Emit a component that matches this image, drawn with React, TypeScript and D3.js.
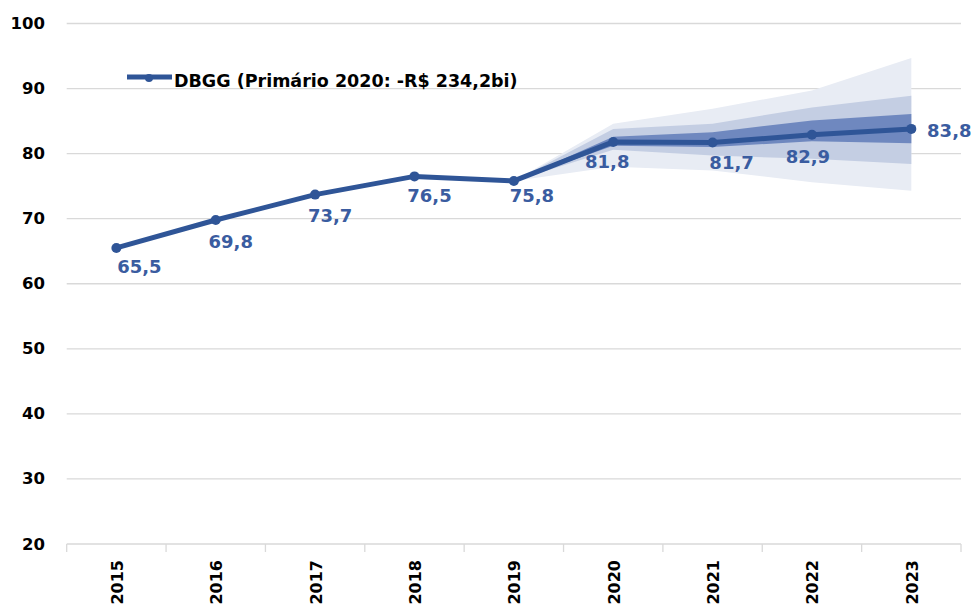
import React from 'react';
import * as d3 from 'd3';

const years = ['2015', '2016', '2017', '2018', '2019', '2020', '2021', '2022', '2023'];
const dbgg = [65.5, 69.8, 73.7, 76.5, 75.8, 81.8, 81.7, 82.9, 83.8];
const dataLabels = ['65,5', '69,8', '73,7', '76,5', '75,8', '81,8', '81,7', '82,9', '83,8'];

const fanYears = ['2019', '2020', '2021', '2022', '2023'];
const outerLow = [75.8, 78.0, 77.4, 75.6, 74.3];
const outerHigh = [75.8, 84.6, 86.9, 89.7, 94.7];
const midLow = [75.8, 80.6, 79.7, 79.2, 78.4];
const midHigh = [75.8, 83.8, 84.6, 87.1, 88.9];
const darkLow = [75.8, 81.2, 81.0, 81.9, 81.6];
const darkHigh = [75.8, 82.6, 83.3, 85.1, 86.1];

const yTicks = [20, 30, 40, 50, 60, 70, 80, 90, 100];
const legendText = 'DBGG (Primário 2020: -R$ 234,2bi)';

// layout: label offsets (dx, dy) from each point
const labelOffsets: [number, number][] = [
  [23, 25], [15, 28], [15, 27], [15, 26], [18, 21], [-6, 26], [19, 26], [-4, 28], [38, 8],
];

const W = 971;
const H = 606;
const LINE = '#2F5597';
const FONT = '"DejaVu Sans", Verdana, sans-serif';

export default function App() {
  const x = d3.scaleBand<string>().domain(years).range([66.7, 961]);
  const y = d3.scaleLinear().domain([20, 100]).range([544, 23.5]);
  const cx = (yr: string) => (x(yr) as number) + x.bandwidth() / 2;

  const band = (lo: number[], hi: number[]) =>
    d3
      .area<number>()
      .x((_, i) => cx(fanYears[i]))
      .y0((_, i) => y(lo[i]))
      .y1((_, i) => y(hi[i]))(lo.map((_, i) => i)) as string;

  const linePath = d3
    .line<number>()
    .x((_, i) => cx(years[i]))
    .y((d) => y(d))(dbgg) as string;

  const ticksX = years.map((yr) => x(yr) as number).concat([x.range()[1]]);

  return (
    <svg
      width={W}
      height={H}
      style={{ position: 'absolute', left: 0, top: 0, background: '#fff' }}
      fontFamily={FONT}
    >
      {yTicks.map((t) =>
        t === 20 ? null : (
          <line key={'g' + t} x1={66.7} x2={961} y1={y(t)} y2={y(t)} stroke="#d9d9d9" strokeWidth={1.3} />
        )
      )}
      {yTicks.map((t) => (
        <text
          key={'yt' + t}
          x={45}
          y={y(t)}
          textAnchor="end"
          dominantBaseline="central"
          fontSize={16.5}
          fontWeight="bold"
          fill="#000"
        >
          {t}
        </text>
      ))}

      <line x1={66.7} x2={961} y1={y(20)} y2={y(20)} stroke="#d9d9d9" strokeWidth={1.5} />
      {ticksX.map((tx, i) => (
        <line key={'tk' + i} x1={tx} x2={tx} y1={y(20)} y2={y(20) + 8} stroke="#d9d9d9" strokeWidth={1.3} />
      ))}
      {years.map((yr) => (
        <text
          key={'xl' + yr}
          transform={`translate(${cx(yr) + 1},560) rotate(-90)`}
          textAnchor="end"
          dominantBaseline="central"
          fontSize={16}
          fontWeight="bold"
          fill="#000"
        >
          {yr}
        </text>
      ))}

      <path d={band(outerLow, outerHigh)} fill="#E8ECF4" />
      <path d={band(midLow, midHigh)} fill="#C4CEE3" />
      <path d={band(darkLow, darkHigh)} fill="#6F88BF" />

      <path d={linePath} fill="none" stroke={LINE} strokeWidth={5} strokeLinejoin="round" />
      {dbgg.map((v, i) => (
        <circle key={'p' + i} cx={cx(years[i])} cy={y(v)} r={5} fill={LINE} />
      ))}
      {dbgg.map((v, i) => (
        <text
          key={'dl' + i}
          x={cx(years[i]) + labelOffsets[i][0]}
          y={y(v) + labelOffsets[i][1]}
          textAnchor="middle"
          fontSize={18}
          fontWeight="bold"
          fill="#3A5CA0"
        >
          {dataLabels[i]}
        </text>
      ))}

      <line x1={127} x2={172} y1={77} y2={77} stroke={LINE} strokeWidth={5} />
      <circle cx={149} cy={78} r={4} fill={LINE} />
      <text x={174} y={87} fontSize={17.5} fontWeight="bold" fill="#000">
        {legendText}
      </text>
    </svg>
  );
}
